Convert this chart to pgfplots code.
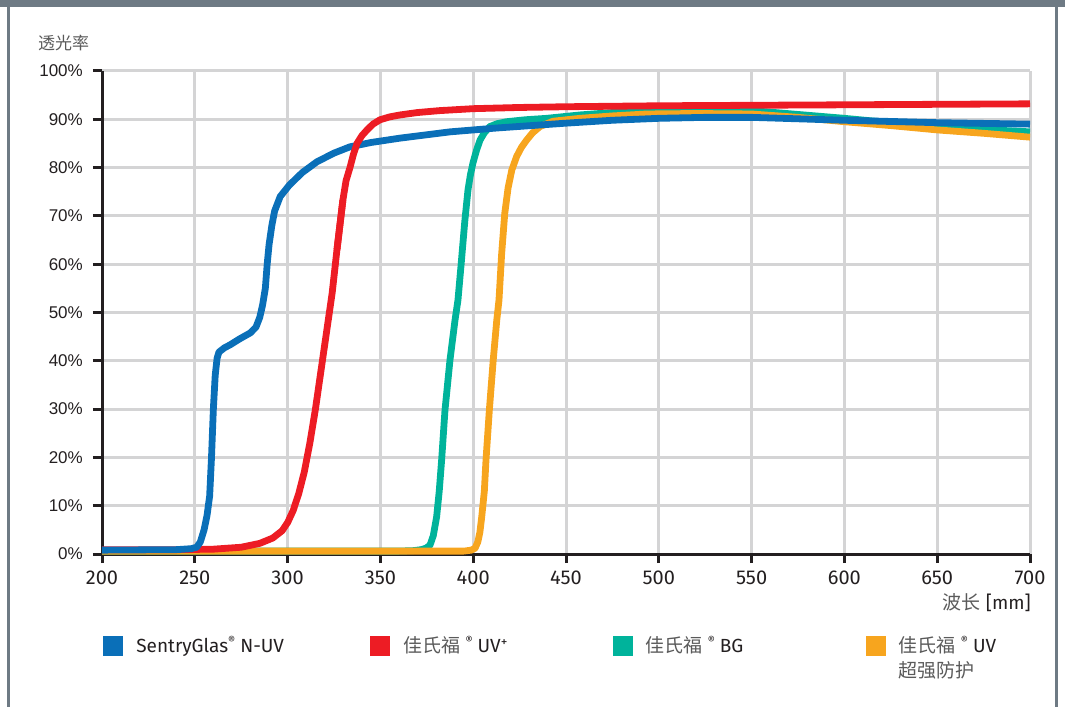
\documentclass[border=0pt]{standalone}
\usepackage{pgfplots}
\pgfplotsset{compat=1.18}
\usepackage{fontspec}
\setmainfont{Fira Sans}
\newfontfamily\lib{Liberation Sans}
\newfontfamily\cjk{Noto Sans CJK SC}
\definecolor{cblue}{HTML}{0A6FB8}
\definecolor{cred}{HTML}{ED1C24}
\definecolor{cgreen}{HTML}{00B39B}
\definecolor{corange}{HTML}{F7A51E}
\definecolor{framegray}{HTML}{6E7A84}
\definecolor{gridgray}{HTML}{D4D4D5}
\definecolor{textdark}{HTML}{231F20}
\definecolor{cjkgray}{HTML}{5A5A5A}
\newcommand\reg{\raisebox{0.42em}{\fontsize{11}{11}\selectfont ®}}
\begin{document}
\begin{tikzpicture}[x=1pt,y=1pt]
\fill[framegray] (0,700) rectangle (1065,707);
\fill[framegray] (7,0) rectangle (9.5,707);
\fill[framegray] (1055,0) rectangle (1058,707);
\begin{axis}[
  at={(102pt,153pt)}, anchor=south west,
  width=928pt, height=483pt, scale only axis,
  clip=false,
  xmin=200, xmax=700, ymin=0, ymax=100,
  xtick={200,250,...,700}, ytick={0,10,...,100},
  axis lines*=left,
  axis line style={line width=3pt, textdark, -},
  grid=major,
  major grid style={line width=3pt, gridgray},
  tick align=outside, major tick length=9pt,
  tick style={line width=3pt, textdark},
  /pgf/number format/assume math mode=true,
  xticklabel style={font=\fontsize{20}{20}\selectfont, text=textdark, inner sep=0pt, yshift=-8pt},
  yticklabel={\pgfmathprintnumber{\tick}\%},
  yticklabel style={font=\lib\fontsize{17}{17}\selectfont, text=textdark, inner sep=0pt, xshift=-10pt},
  legend columns=4,
  legend cell align=left,
  legend style={at={(0.001,-0.168)}, anchor=north west, draw=none, fill=none,
    inner sep=0pt, row sep=0pt, column sep=0pt,
    nodes={inner sep=0pt, anchor=base west},
    font=\fontsize{19}{25}\selectfont, text=textdark},
  legend image code/.code={\fill[#1, draw=none] (0pt,-3.5pt) rectangle (20pt,16.5pt); \path (33pt,0pt);},
]
\addlegendimage{color=cblue}
\addlegendentry{\makebox[234pt][l]{SentryGlas\reg{} N-UV}}
\addlegendimage{color=cred}
\addlegendentry{\makebox[209pt][l]{{\cjk\color{cjkgray}佳氏福} \reg{} UV\textsuperscript{+}}}
\addlegendimage{color=cgreen}
\addlegendentry{\makebox[220pt][l]{{\cjk\color{cjkgray}佳氏福} \reg{} BG}}
\addlegendimage{color=corange}
\addlegendentry{\begin{tabular}[t]{@{}l@{}}{\cjk\color{cjkgray}佳氏福} \reg{} UV\\{\cjk\color{cjkgray}超强防护}\end{tabular}}

% green: 佳氏福 BG
\addplot[cgreen, line width=6.8pt, line join=round, forget plot] coordinates {
(200,0.6) (360,0.6) (368,0.7) (372,0.9) (374.5,1.2) (376.7,1.8) (378.5,3.8) (380.3,7.7) (381.7,13) (383,19.5)
(384.8,29.8) (387.5,40.2) (390.2,48.4) (391.8,52.6) (393.5,60) (395.5,69) (397.2,75.4) (398.5,78.5)
(399.9,81) (401.8,83.6) (403.7,85.7) (406,87.2) (409,88.5) (413,89.1) (418,89.5) (428,89.9) (439.6,90.2)
(457.5,90.9) (475,91.4) (493.5,91.8) (511,91.9) (530,91.9) (550,91.8) (575,91) (600,90.2) (625,89.3) (650,88.5) (675,87.9) (700,87.4)
};
% orange: 佳氏福 UV 超强防护
\addplot[corange, line width=6.8pt, line join=round, forget plot] coordinates {
(200,0.6) (395,0.6) (399,0.8) (401,1.2) (402.5,2.5) (403.6,4.5) (404.6,7.7) (406,13) (406.9,19.5)
(408.7,29.8) (410.8,40.2) (412.7,48.4) (413.9,52.6) (415.3,62) (417,70.5) (418.8,75.8)
(420.8,79.5) (423.4,82.3) (426,84.2) (428.8,85.7) (432,87.2) (436,88.5) (443,89.6) (457.5,90.2)
(475,90.7) (493.5,91.1) (520,91.2) (550,91.1) (575,90.4) (600,89.5) (625,88.7) (650,87.8) (675,87.1) (700,86.3)
};
% red: 佳氏福 UV+ (lower part)
\addplot[cred, line width=6.8pt, line join=round, forget plot] coordinates {
(200,0.9) (240,0.9) (260,1.0) (275,1.4) (285,2.2) (292,3.3) (297,4.8) (300,6.5) (303,9) (306,12.5)
(309,17) (312,23) (315,30) (318,38) (321,46) (324,54) (326.6,63) (329.8,73.3)
};
% blue: SentryGlas N-UV
\addplot[cblue, line width=6.8pt, line join=round, forget plot] coordinates {
(200,0.8) (240,0.9) (248,1.1) (251,1.4) (253,2.5) (255,5) (256.6,8) (258,12) (259,20) (260,30)
(261,37) (262,40.5) (263,41.8) (266,42.7) (269,43.3) (274,44.5) (280,45.8) (283,47) (285,49)
(286.5,51.5) (288,55) (289,60) (290,64) (291.5,68) (293,71) (296,74) (301,76.4) (308,79)
(315.8,81.2) (325,83) (333.6,84.3) (345,85.2) (360.6,86.1) (387.5,87.4) (412.8,88.2) (450,89.2)
(475,89.8) (500,90.2) (525,90.4) (550,90.4) (575,90.1) (600,89.8) (650,89.3) (700,89.0)
};
% red: 佳氏福 UV+ (upper part)
\addplot[cred, line width=6.8pt, line join=round, forget plot] coordinates {
(326.6,63) (329.8,73.3) (331.5,77.3) (333.6,80)
(335.5,82.8) (337.4,85) (340,86.6) (342.8,87.8) (346,89) (349.8,89.9) (355,90.5) (360.6,90.9) (370,91.4) (382,91.8)
(400,92.2) (425,92.45) (450,92.6) (500,92.8) (550,92.9) (600,93) (650,93.1) (700,93.2)
};
\node[anchor=west, inner sep=0pt, font=\cjk\fontsize{17}{17}\selectfont, text=cjkgray] at (rel axis cs:-0.069,1.058) {透光率};
\node[anchor=east, inner sep=0pt, font=\fontsize{19}{19}\selectfont, text=textdark] at (rel axis cs:1.001,-0.1014) {{\cjk\color{cjkgray}波长} [mm]};
\end{axis}
\pgfresetboundingbox
\useasboundingbox (0,0) rectangle (1065,707);
\end{tikzpicture}
\end{document}
